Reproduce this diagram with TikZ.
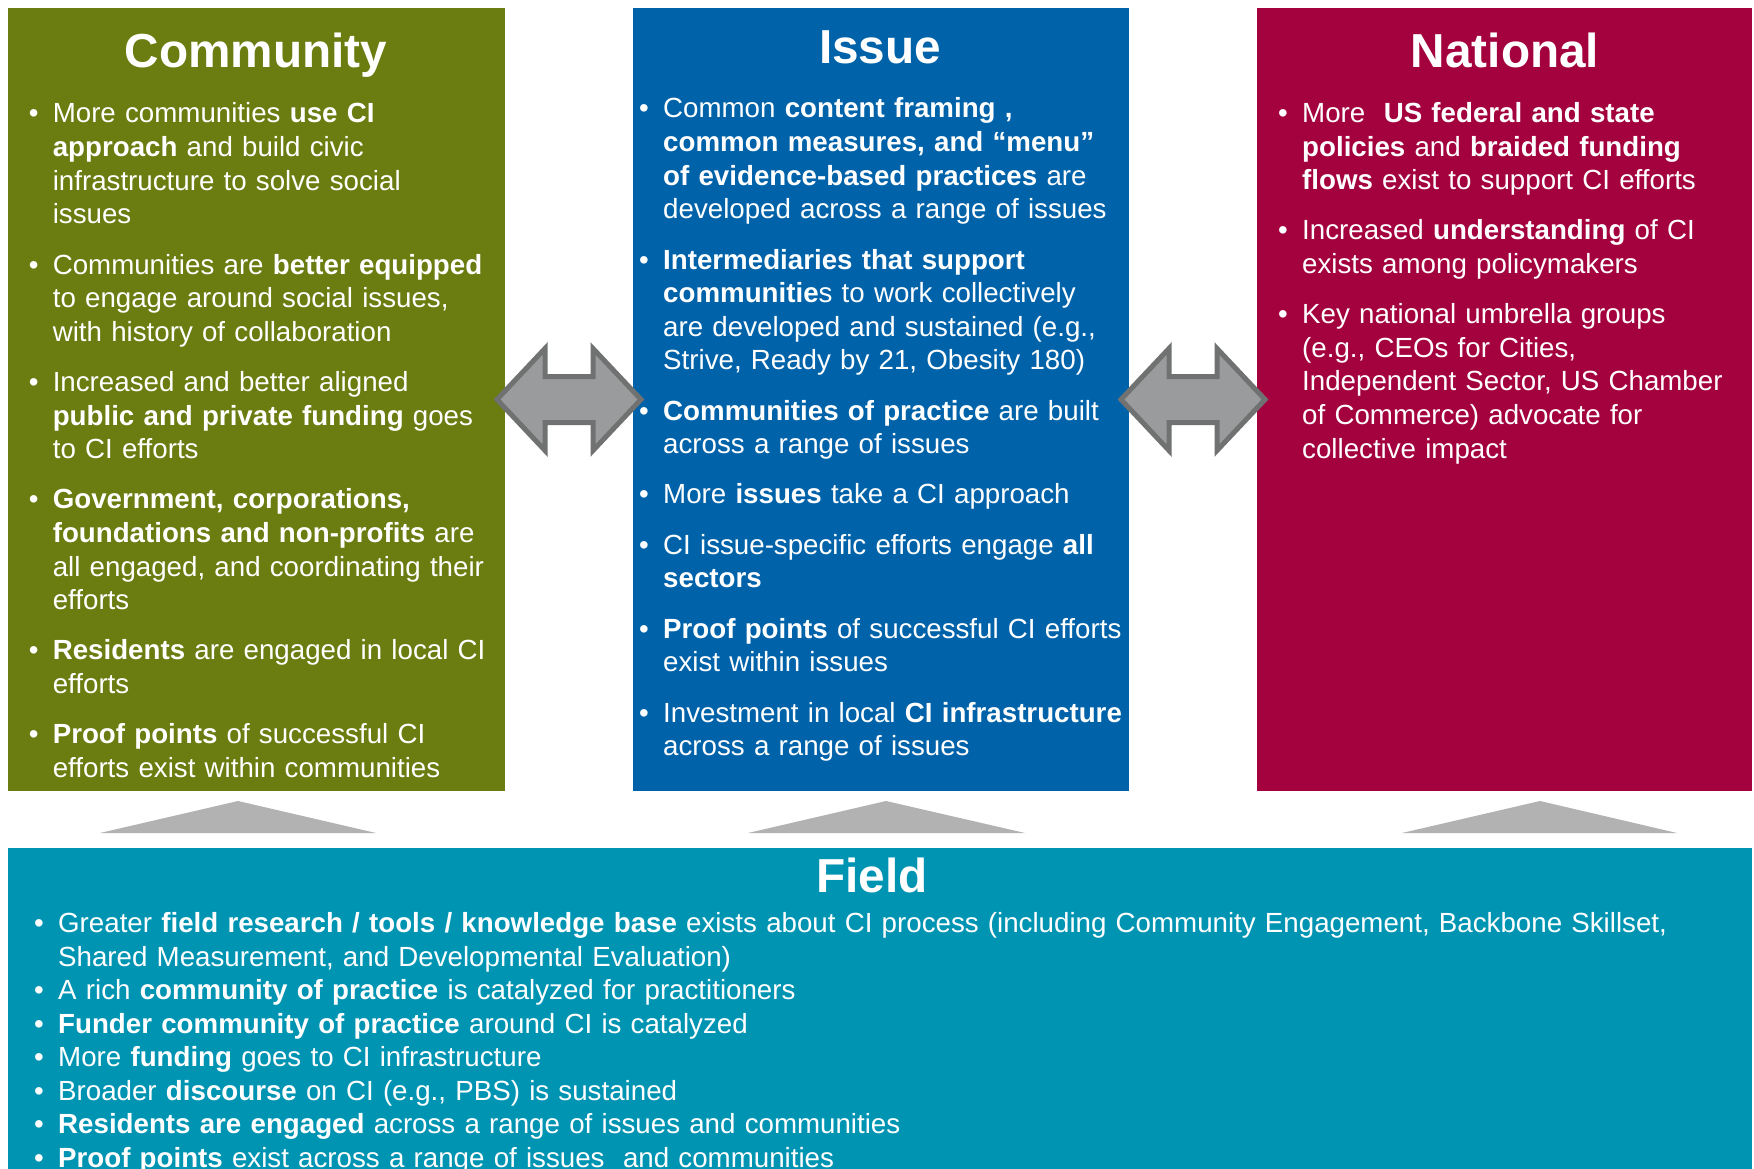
\documentclass[tikz,border=0pt]{standalone}
\usepackage{fontspec}
\setmainfont{Liberation Sans}
\usetikzlibrary{calc}
\definecolor{cgreen}{HTML}{6B7C10}
\definecolor{cblue}{HTML}{0063AA}
\definecolor{cred}{HTML}{A4023E}
\definecolor{cteal}{HTML}{0094B3}
\definecolor{ctri}{HTML}{B2B2B2}
\definecolor{carrfill}{HTML}{9A9B9D}
\definecolor{carrline}{HTML}{707171}
\newlength\hangw \setlength\hangw{24pt}
\newcommand\bfirst[1]{\hangindent=\hangw\hangafter=1\noindent\makebox[\hangw][l]{•}#1}
\newcommand\bitem[1]{\par\bfirst{#1}}
\newcommand\itemgap[1]{\setlength\parskip{#1}}
\tikzset{
  colbox/.style={rectangle, inner sep=0pt, outer sep=0pt, anchor=north west},
  coltitle/.style={text=white, font=\fontsize{47.7}{57}\selectfont\bfseries, anchor=base, inner sep=0pt},
  colbody/.style={text=white, font=\fontsize{27.7}{33.56}\selectfont, anchor=base west, inner sep=0pt, text width=#1},
  tri/.style={fill=ctri},
  dblarrowline/.style={fill=carrfill, draw=carrline, line width=5pt, line join=miter},
  dblarrowpic/.pic={
    \path[dblarrowline] (-72,0) -- (-24,-51) -- (-24,-23) -- (24,-23) -- (24,-51) -- (72,0)
      -- (24,51) -- (24,23) -- (-24,23) -- (-24,51) -- cycle;
  }
}
\begin{document}
\begin{tikzpicture}[x=1pt,y=-1pt]
\useasboundingbox (0,0) rectangle (1754,1169);
\fill[white] (0,0) rectangle (1754,1169);

% column boxes
\node[colbox, fill=cgreen, minimum width=497pt, minimum height=783pt] (comm) at (8,8) {};
\node[colbox, fill=cblue, minimum width=496pt, minimum height=783pt] (issue) at (633,8) {};
\node[colbox, fill=cred, minimum width=495pt, minimum height=783pt] (natl) at (1257,8) {};
\node[colbox, fill=cteal, minimum width=1744pt, minimum height=321pt] (field) at (8,848) {};

% titles
\node[coltitle] (commT) at (256,68) {Community};
\node[coltitle] (issueT) at (880,63.5) {Issue};
\node[coltitle] (natlT) at (1505,68) {National};
\node[coltitle] (fieldT) at (872,892) {Field};

% bodies
\node[colbody=700pt] (commB) at (28.6,123) {\itemgap{16.78pt}%
\bfirst{More communities \textbf{use CI}\newline \textbf{approach} and build civic\newline infrastructure to solve social\newline issues}
\bitem{Communities are \textbf{better equipped}\newline to engage around social issues,\newline with history of collaboration}
\bitem{Increased and better aligned\newline \textbf{public and private funding} goes\newline to CI efforts}
\bitem{\textbf{Government, corporations,}\newline \textbf{foundations and non-profits} are\newline all engaged, and coordinating their\newline efforts}
\bitem{\textbf{Residents} are engaged in local CI\newline efforts}
\bitem{\textbf{Proof points} of successful CI\newline efforts exist within communities}\par};

\node[colbody=700pt] (issueB) at (639,118) {\itemgap{16.78pt}%
\bfirst{Common \textbf{content framing ,}\newline \textbf{common measures, and “menu”}\newline \textbf{of evidence-based practices} are\newline developed across a range of issues}
\bitem{\textbf{Intermediaries that support}\newline \textbf{communitie}s to work collectively\newline are developed and sustained (e.g.,\newline Strive, Ready by 21, Obesity 180)}
\bitem{\textbf{Communities of practice} are built\newline across a range of issues}
\bitem{More \textbf{issues} take a CI approach}
\bitem{CI issue-specific efforts engage \textbf{all}\newline \textbf{sectors}}
\bitem{\textbf{Proof points} of successful CI efforts\newline exist within issues}
\bitem{Investment in local \textbf{CI infrastructure}\newline across a range of issues}\par};

\node[colbody=700pt] (natlB) at (1278,122.5) {\itemgap{16.78pt}%
\bfirst{More~ \textbf{US federal and state}\newline \textbf{policies} and \textbf{braided funding}\newline \textbf{flows} exist to support CI efforts}
\bitem{Increased \textbf{understanding} of CI\newline exists among policymakers}
\bitem{Key national umbrella groups\newline (e.g., CEOs for Cities,\newline Independent Sector, US Chamber\newline of Commerce) advocate for\newline collective impact}\par};

\node[colbody=1700pt] (fieldB) at (34,932.5) {\itemgap{0pt}%
\bfirst{Greater \textbf{field research / tools / knowledge base} exists about CI process (including Community Engagement, Backbone Skillset,\newline Shared Measurement, and Developmental Evaluation)}
\bitem{A rich \textbf{community of practice} is catalyzed for practitioners}
\bitem{\textbf{Funder community of practice} around CI is catalyzed}
\bitem{More \textbf{funding} goes to CI infrastructure}
\bitem{Broader \textbf{discourse} on CI (e.g., PBS) is sustained}
\bitem{\textbf{Residents are engaged} across a range of issues and communities}
\bitem{\textbf{Proof points} exist across a range of issues~ and communities}\par};

% double arrows between columns
\coordinate (a1) at ($(comm.east)!0.5!(issue.west)$);
\coordinate (a2) at ($(issue.east)!0.5!(natl.west)$);
\pic at (a1) {dblarrowpic};
\pic at (a2) {dblarrowpic};

% triangles from field up to columns
\fill[tri] (100,833) -- (238,801) -- (376,833) -- cycle;
\fill[tri] (748,833) -- (886,801) -- (1025,833) -- cycle;
\fill[tri] (1402,833) -- (1540,801) -- (1677,833) -- cycle;
\end{tikzpicture}
\end{document}
